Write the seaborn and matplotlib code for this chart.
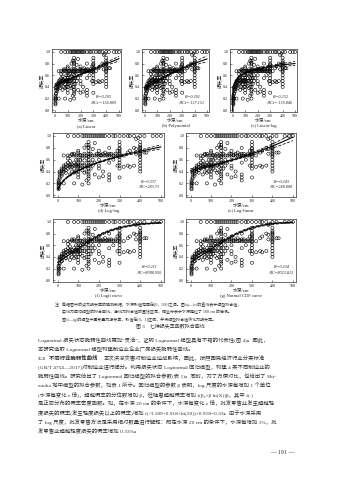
import numpy as np
import pandas as pd
import matplotlib
matplotlib.use("Agg")
import matplotlib.pyplot as plt
import seaborn as sns
from math import erf

# ---------------------------------------------------------------------------
# Observed loss-rate samples: water depth (cm) and loss rate
# ---------------------------------------------------------------------------
depth_cm = (
    [5] * 7 + [10] * 6 + [20] * 5 + [30] * 6 + [40] * 4 + [50] * 6 + [60] * 6
    + [70] * 5 + [80] * 8 + [90] * 5 + [100] * 13 + [110] * 5 + [120] * 7
    + [130] * 6 + [140] * 8 + [150] * 18 + [160] * 5 + [170] * 5 + [180] * 5
    + [190] * 3 + [200] * 8 + [210] * 3 + [220] * 5 + [230] * 3 + [240] * 2
    + [250] * 8 + [260] * 2 + [270] * 3 + [280] * 3 + [290] * 3 + [300] * 15
    + [320] * 3 + [340] * 3 + [350] * 3 + [370] * 3 + [380] * 3 + [390] * 1
    + [400] * 16 + [420] * 2 + [430] * 1 + [460] * 1 + [480] * 1 + [500] * 1
)
loss_rate = (
    [0.10, 0.12, 0.15, 0.18, 0.20, 0.22, 0.25]
    + [0.20, 0.28, 0.30, 0.35, 0.38, 0.40]
    + [0.33, 0.36, 0.40, 0.42, 0.45]
    + [0.20, 0.40, 0.44, 0.47, 0.50, 0.67]
    + [0.38, 0.42, 0.48, 0.52]
    + [0.45, 0.50, 0.55, 0.62, 0.67, 1.00]
    + [0.35, 0.47, 0.50, 0.52, 0.58, 0.66]
    + [0.40, 0.48, 0.52, 0.68, 0.70]
    + [0.20, 0.38, 0.45, 0.50, 0.55, 0.67, 0.70, 1.00]
    + [0.40, 0.50, 0.52, 0.60, 0.67]
    + [0.30, 0.35, 0.40, 0.45, 0.48, 0.50, 0.52, 0.55, 0.60, 0.67, 0.72, 0.75, 1.00]
    + [0.45, 0.50, 0.60, 0.67, 0.68]
    + [0.18, 0.42, 0.50, 0.55, 0.62, 0.67, 1.00]
    + [0.38, 0.50, 0.67, 0.70, 0.80, 1.00]
    + [0.25, 0.40, 0.48, 0.55, 0.62, 0.67, 0.85, 1.00]
    + [0.20, 0.28, 0.32, 0.35, 0.40, 0.45, 0.50, 0.55, 0.60, 0.65, 0.67, 0.70,
       0.75, 0.80, 0.82, 0.85, 0.90, 1.00]
    + [0.45, 0.55, 0.67, 0.70, 1.00]
    + [0.50, 0.60, 0.67, 0.78, 1.00]
    + [0.35, 0.55, 0.67, 0.88, 1.00]
    + [0.67, 0.70, 1.00]
    + [0.30, 0.45, 0.50, 0.60, 0.67, 0.70, 0.75, 1.00]
    + [0.67, 0.68, 1.00]
    + [0.32, 0.40, 0.67, 0.70, 1.00]
    + [0.67, 0.72, 1.00]
    + [0.67, 0.69]
    + [0.25, 0.30, 0.35, 0.55, 0.67, 0.70, 0.80, 1.00]
    + [0.67, 0.70]
    + [0.60, 0.67, 1.00]
    + [0.67, 0.70, 1.00]
    + [0.50, 0.67, 0.75]
    + [0.30, 0.45, 0.50, 0.55, 0.60, 0.65, 0.67, 0.70, 0.72, 0.75, 0.78, 0.80,
       0.85, 0.90, 1.00]
    + [0.48, 0.67, 1.00]
    + [0.50, 0.72, 1.00]
    + [0.48, 0.75, 1.00]
    + [0.50, 0.80, 1.00]
    + [0.70, 0.78, 0.95]
    + [0.97]
    + [0.40, 0.45, 0.50, 0.55, 0.60, 0.65, 0.67, 0.70, 0.72, 0.75, 0.78, 0.80,
       0.82, 0.85, 0.90, 1.00]
    + [0.72, 1.00]
    + [0.72]
    + [1.00]
    + [1.00]
    + [1.00]
)
samples = pd.DataFrame({"depth": depth_cm, "loss": loss_rate})

# Fitted model coefficients
coef_linear = [0.43, 0.00091]
coef_poly = [0.38, 0.0013, -6.0e-7]
coef_linlog = [0.18, 0.10]
coef_loglog = [0.061, 0.417]
coef_loglin = [0.42, 0.0017]
coef_logit = [-0.81, 0.010]
coef_probit = [-0.50, 0.0059]

panel_titles = ["(a) Linear", "(b) Polynomial", "(c) Linear-log", "(d) Log-log",
                "(e) Log-linear", "(f) Logit curve", "(g) Normal CDF curve"]
r2_labels = ["R²=0.203", "R²=0.201", "R²=0.252", "R²=0.337",
             "R²=0.243", "R²=0.211", "R²=0.234"]
aic_labels = ["AICs=-156.809", "AICs=-157.151", "AICs=-159.846", "AIC=283.73",
              "AIC=248.808", "AIC=8088.950", "AIC=8023.812"]
x_ticks = [0, 100, 200, 300, 400, 500]
y_ticks = [0.0, 0.2, 0.4, 0.6, 0.8, 1.0]

note_lines = [
    "注：每幅图中的点为损失率的观测数据，水深取值范围在[0，500]之间。图(a)—(c)的直线表示模型拟合值，",
    "实线为回归模型的拟合曲线，虚线为拟合值的置信区间，横坐标表示水深超过了 500 cm 的情况。",
    "图(f)—(g)的模型中因变量为损失率，取值在[0，1]区间，并将模型拟合值转化为损失率。",
]
caption = "图 3    七种损失率函数拟合曲线"
section_head = "3.3   不同行业脆弱性曲线"
body_lines = [
    "Lognormal 损失状态脆弱性曲线更加“灵活”，证明 Lognormal 模型具有不错的代表性(图 4)。因此，",
    "本研究选取 Lognormal 模型构建制造业企业厂房损失脆弱性曲线。",
    None,
    "(GB/T 4754—2017)对制造业进行细分。利用损失状态 Lognormal 回归模型，构建 4 类不同制造业的",
    "脆弱性曲线。研究给出了 Lognormal 回归模型的拟合参数(表 1)。同时，为了方便对比，也给出了 Shi-",
    "zuoka 地中模型的拟合参数，如表 1 所示。回归模型的参数 β 表明，log 尺度的水深每增加 1 个单位",
    "(水深每变化 e 倍)，超越概率的分位数增加 β，但随着超越概率增加 f(β₀+β ln(X))β，其中 f(·)",
    "是正态分布的概率密度函数。如，在水深 20 cm 的条件下，水深每变化 e 倍，批发零售业发生超越轻",
    "度损失的概率(发生轻度损失以上的概率)增加 f(-3.189+0.918×ln(20))×0.918=0.33。由于水深采用",
    "了 log 尺度，批发零售方法是采用相对数量进行解释：即在水深 20 cm 的条件下，水深每增加 1%，批",
    "发零售业超越轻度损失的概率增加 0.33%。",
]
section_rest = "本次洪涝灾害对制造业造成影响，因此，按照国民经济行业分类标准"
page_number = "— 191 —"


def norm_cdf(z):
    return np.array([0.5 * (1.0 + erf(v / np.sqrt(2.0))) for v in np.atleast_1d(z)])


def sigmoid(z):
    return 1.0 / (1.0 + np.exp(-z))


def model_curve(idx):
    """Return x grid, fitted curve and lower/upper band for each model."""
    if idx == 2:
        x = np.geomspace(0.15, 500, 300)
    elif idx == 3:
        x = np.geomspace(3, 500, 300)
    else:
        x = np.linspace(0, 500, 300)
    if idx == 0:
        y = coef_linear[0] + coef_linear[1] * x
        hw = 0.012 + 0.08 * ((x - 200) / 500) ** 2
        return x, y, y - hw, y + hw
    if idx == 1:
        y = coef_poly[0] + coef_poly[1] * x + coef_poly[2] * x ** 2
        hw = 0.012 + 0.13 * ((x - 220) / 500) ** 2
        return x, y, y - hw, y + hw
    if idx == 2:
        y = coef_linlog[0] + coef_linlog[1] * np.log(x)
        hw = 0.015 + 0.04 * ((x - 150) / 500) ** 2
        return x, y, y - hw, y + hw
    if idx == 3:
        y = coef_loglog[0] * x ** coef_loglog[1]
        hw = 0.008 + 0.04 * ((x - 100) / 500) ** 2
        return x, y, y - hw, y + hw
    if idx == 4:
        y = coef_loglin[0] * np.exp(coef_loglin[1] * x)
        hw = 0.012 + 0.12 * ((x - 180) / 500) ** 2
        return x, y, y - hw, y + hw
    if idx == 5:
        eta = coef_logit[0] + coef_logit[1] * x
        hw = 0.10 + 1.0 * ((x - 200) / 500) ** 2
        return x, sigmoid(eta), sigmoid(eta - hw), sigmoid(eta + hw)
    eta = coef_probit[0] + coef_probit[1] * x
    hw = 0.06 + 0.6 * ((x - 200) / 500) ** 2
    return x, norm_cdf(eta), norm_cdf(eta - hw), norm_cdf(eta + hw)


# ---------------------------------------------------------------------------
W, H = 339, 480
sns.set_style("ticks")
plt.rcParams["font.family"] = ["Liberation Serif", "Noto Sans CJK SC", "DejaVu Sans"]
plt.rcParams["axes.unicode_minus"] = False

fig = plt.figure(figsize=(W / 100, H / 100), dpi=100)
fig.patch.set_facecolor("white")
INK = "#222222"
TXT = "#333333"


def add_axes_px(left, top, right, bottom):
    return fig.add_axes([left / W, 1 - bottom / H, (right - left) / W, (bottom - top) / H])


def ftext(x, y, s, **kw):
    kw.setdefault("color", TXT)
    return fig.text(x / W, 1 - y / H, s, **kw)


# panel frames in pixels: left, top, right, bottom ; subtitle y ; annotation x
panels = [
    (52, 49, 121, 112, 126, 0.74),
    (142, 49, 209, 112, 126, 0.74),
    (230, 49, 297, 112, 126, 0.74),
    (53, 133, 164, 197, 211, 0.86),
    (186, 133, 296, 197, 211, 0.86),
    (53, 219, 164, 282, 296, 0.86),
    (186, 219, 296, 282, 296, 0.86),
]

for i, (l, t, r, b, sub_y, ann_x) in enumerate(panels):
    ax = add_axes_px(l, t, r, b)
    sns.scatterplot(data=samples, x="depth", y="loss", ax=ax, marker="o", s=5,
                    facecolor="none", edgecolor="black", linewidth=0.4, zorder=2)
    xs, ys, lo, hi = model_curve(i)
    sns.lineplot(x=xs, y=ys, ax=ax, color="black", lw=0.8, sort=False,
                 estimator=None, zorder=3)
    for band in (lo, hi):
        sns.lineplot(x=xs, y=band, ax=ax, color="black", lw=0.55, sort=False,
                     estimator=None, zorder=3, dashes=False, linestyle=(0, (4, 2)))
    ax.set_xlim(-22, 515)
    ax.set_ylim(-0.03, 1.05)
    ax.set_xticks(x_ticks)
    ax.set_yticks(y_ticks)
    ax.set_xticklabels([str(v) for v in x_ticks])
    ax.set_yticklabels([f"{v:.1f}" for v in y_ticks])
    ax.tick_params(direction="in", length=1.4, width=0.4, labelsize=3.0, pad=1.2,
                   colors=INK)
    for sp in ax.spines.values():
        sp.set_linewidth(0.5)
        sp.set_color("#333333")
    ax.set_xlabel("水深/cm", fontsize=3.4, labelpad=0.8, color=INK)
    ax.set_ylabel("损失率", fontsize=3.4, labelpad=1.0, color=INK)
    ax.text(ann_x, 0.24, r2_labels[i], transform=ax.transAxes, ha="center",
            va="center", fontsize=3.0, style="italic", color=INK)
    ax.text(ann_x, 0.15, aic_labels[i], transform=ax.transAxes, ha="center",
            va="center", fontsize=3.0, style="italic", color=INK)
    ftext((l + r) / 2, sub_y, panel_titles[i], ha="center", va="center",
          fontsize=3.3, color=INK)

# figure notes and caption
note_pos = [(55, 304), (62, 311.5), (62, 319)]
for (x, y), s in zip(note_pos, note_lines):
    ftext(x, y, s, ha="left", va="center", fontsize=2.85)
ftext(170, 327, caption, ha="center", va="center", fontsize=3.6)

# body paragraph
fs_body = 3.85
y0, dy = 340, 9.1
renderer = fig.canvas.get_renderer()
for k, line in enumerate(body_lines):
    y = y0 + dy * k
    if line is None:
        head = ftext(38, y, section_head, ha="left", va="center", fontsize=fs_body,
                     weight="bold")
        bb = head.get_window_extent(renderer=renderer)
        ftext(bb.x1 + 6, y, section_rest, ha="left", va="center", fontsize=fs_body)
    else:
        ftext(38, y, line, ha="left", va="center", fontsize=fs_body)

ftext(282, 452, page_number, ha="center", va="center", fontsize=4.4)

fig.savefig("out.png", dpi=100, facecolor="white")
